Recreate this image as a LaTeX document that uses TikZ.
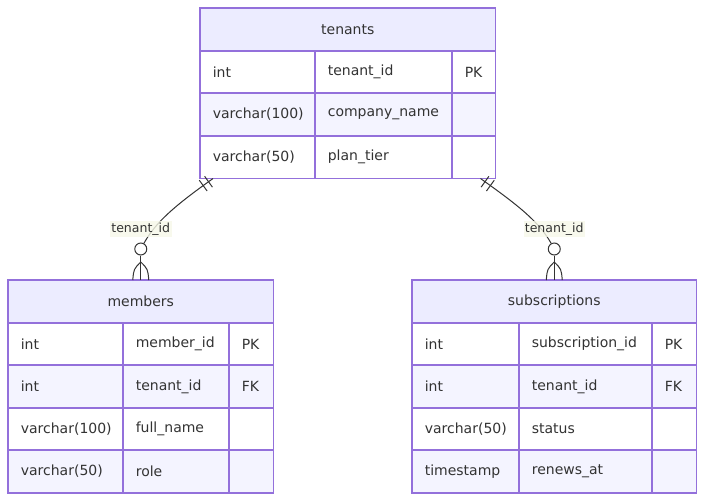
\documentclass[tikz,border=0pt]{standalone}
\usepackage{fontspec}
\setmainfont{DejaVu Sans}
\usepackage{tikz}
\usetikzlibrary{positioning,calc}

\definecolor{erline}{RGB}{147,112,219}
\definecolor{erhead}{RGB}{236,236,255}
\definecolor{errow}{RGB}{244,244,255}
\definecolor{ertext}{RGB}{51,51,51}
\definecolor{erlink}{RGB}{51,51,51}
\definecolor{erlabel}{RGB}{246,248,232}

\begin{document}
\begin{tikzpicture}[
  x=0.75pt, y=-0.75pt,
  every node/.style={font=\fontsize{10.5}{12}\selectfont, text=ertext},
  cell/.style={anchor=north west, minimum height=31.875pt,
    inner xsep=9.4pt, inner ysep=0pt, text width=#1, align=left},
  headcell/.style={fill=erhead, anchor=north west,
    minimum height=31.875pt, minimum width=#1, inner sep=0pt},
  tabline/.style={draw=erline, line width=1.3pt},
  rel/.style={draw=erlink, line width=0.75pt},
  crowcirc/.style={circle, draw=erlink, fill=white, line width=0.75pt, minimum size=9pt, inner sep=0pt},
  onebar/.style={sloped, draw=erlink, line width=0.75pt, minimum height=10pt, minimum width=0pt, inner sep=0pt},
  elabel/.style={fill=erlabel, fill opacity=0.8, text opacity=1, inner sep=1pt, font=\fontsize{9.4}{11}\selectfont},
]
\useasboundingbox (0,0) rectangle (704,501);

% --- tenants (top)
\begin{scope}[shift={(200,8)}]
  \node[headcell=221.25pt] (tenants) at (0,0) {tenants};
  \foreach \ty/\nm/\ky [count=\i] in {int/tenant\_id/PK, varchar(100)/company\_name/{}, varchar(50)/plan\_tier/{}} {
    \ifodd\i \def\rowfill{white}\else \def\rowfill{errow}\fi
    \node[cell=67.45pt, fill=\rowfill] (tenants-\i-a) at (0,42.5*\i) {\ty};
    \node[cell=83.95pt, fill=\rowfill] (tenants-\i-b) at (115,42.5*\i) {\nm};
    \node[cell=13.45pt, fill=\rowfill] (tenants-\i-c) at (252,42.5*\i) {\ky};
  }
  % grid on top of the fills
  \draw[tabline] (tenants.south west) rectangle (tenants.north east);
  \foreach \i in {1,...,3}
    \foreach \c in {a,b,c}
      \draw[tabline] (tenants-\i-\c.south west) rectangle (tenants-\i-\c.north east);
\end{scope}

% --- members (bottom left)
\begin{scope}[shift={(8,280)}]
  \node[headcell=198.75pt] (members) at (0,0) {members};
  \foreach \ty/\nm/\ky [count=\i] in {int/member\_id/PK, int/tenant\_id/FK, varchar(100)/full\_name/{}, varchar(50)/role/{}} {
    \ifodd\i \def\rowfill{white}\else \def\rowfill{errow}\fi
    \node[cell=67.45pt, fill=\rowfill] (members-\i-a) at (0,42.5*\i) {\ty};
    \node[cell=60.7pt, fill=\rowfill] (members-\i-b) at (115,42.5*\i) {\nm};
    \node[cell=14.2pt, fill=\rowfill] (members-\i-c) at (221,42.5*\i) {\ky};
  }
  \draw[tabline] (members.south west) rectangle (members.north east);
  \foreach \i in {1,...,4}
    \foreach \c in {a,b,c}
      \draw[tabline] (members-\i-\c.south west) rectangle (members-\i-\c.north east);
\end{scope}

% --- subscriptions (bottom right)
\begin{scope}[shift={(412,280)}]
  \node[headcell=213pt] (subscriptions) at (0,0) {subscriptions};
  \foreach \ty/\nm/\ky [count=\i] in {int/subscription\_id/PK, int/tenant\_id/FK, varchar(50)/status/{}, timestamp/renews\_at/{}} {
    \ifodd\i \def\rowfill{white}\else \def\rowfill{errow}\fi
    \node[cell=61.45pt, fill=\rowfill] (subscriptions-\i-a) at (0,42.5*\i) {\ty};
    \node[cell=80.95pt, fill=\rowfill] (subscriptions-\i-b) at (107,42.5*\i) {\nm};
    \node[cell=14.2pt, fill=\rowfill] (subscriptions-\i-c) at (240,42.5*\i) {\ky};
  }
  \draw[tabline] (subscriptions.south west) rectangle (subscriptions.north east);
  \foreach \i in {1,...,4}
    \foreach \c in {a,b,c}
      \draw[tabline] (subscriptions-\i-\c.south west) rectangle (subscriptions-\i-\c.north east);
\end{scope}

% --- tenants ||--o{ members
\node[crowcirc] (tm-o) at ([yshift=23.25pt]members.north) {};
\coordinate (tm-s) at ([xshift=9.75pt]tenants-3-a.south west);
\draw[rel] (tm-s) .. controls ($(tm-s)+(-38,27)$) and ($(tm-o)+(15,-27)$) .. (tm-o)
  node[onebar, pos=0.04] {} node[onebar, pos=0.09] {};
\draw[rel] (tm-o) -- (members.north);
\draw[rel] ([xshift=-6pt]members.north) .. controls ([xshift=-5.25pt,yshift=8.25pt]members.north) .. ([yshift=13.5pt]members.north)
  .. controls ([xshift=5.25pt,yshift=8.25pt]members.north) .. ([xshift=6pt]members.north);
\node[elabel] (tm-l) at ([yshift=38.25pt]members.north) {tenant\_id};

% --- tenants ||--o{ subscriptions
\node[crowcirc] (ts-o) at ([yshift=23.25pt]subscriptions.north) {};
\coordinate (ts-s) at ([xshift=-11.25pt]tenants-3-c.south east);
\draw[rel] (ts-s) .. controls ($(ts-s)+(38,27)$) and ($(ts-o)+(-15,-27)$) .. (ts-o)
  node[onebar, pos=0.04] {} node[onebar, pos=0.09] {};
\draw[rel] (ts-o) -- (subscriptions.north);
\draw[rel] ([xshift=-6pt]subscriptions.north) .. controls ([xshift=-5.25pt,yshift=8.25pt]subscriptions.north) .. ([yshift=13.5pt]subscriptions.north)
  .. controls ([xshift=5.25pt,yshift=8.25pt]subscriptions.north) .. ([xshift=6pt]subscriptions.north);
\node[elabel] (ts-l) at ([yshift=38.25pt]subscriptions.north) {tenant\_id};
\end{tikzpicture}
\end{document}
